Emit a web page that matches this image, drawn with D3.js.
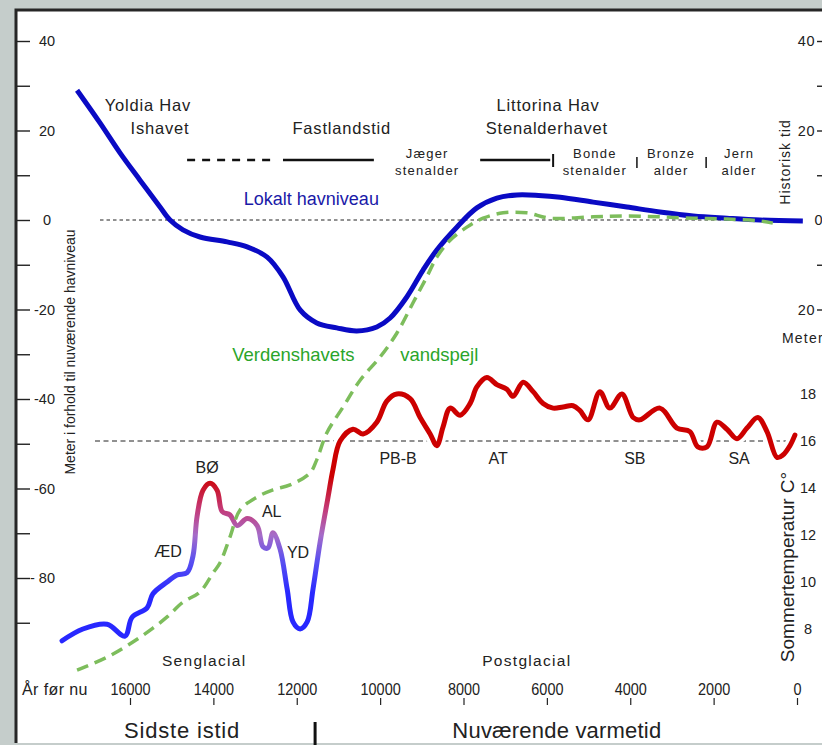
<!DOCTYPE html>
<html lang="da">
<head>
<meta charset="UTF-8">
<title>Havniveau og sommertemperatur</title>
<style>
  body { margin: 0; background: #c5cdcb; }
  svg { display: block; font-family: "Liberation Sans", Arial, sans-serif; }
  .axis path.domain { display: none; }
  .axis line { stroke: #222; stroke-width: 1.4px; }
  .axis text { fill: #222; }
</style>
</head>
<body>
<svg id="chart" width="822" height="745"></svg>
<script src="https://cdn.jsdelivr.net/npm/d3@7/dist/d3.min.js"></script>
<script>
// --- data (years before present) ---
const localYears = [17270, 16720, 16240, 15760, 15280, 15040, 14730, 14320, 13670, 13190, 12710, 12330, 11920, 11520, 11040, 10560, 10080, 9760, 9360, 8970, 8640, 8160, 7680, 7200, 6720, 6200, 5680, 4890, 4080, 3290, 2490, 1680, 890, -140];
const localLevel = [29.0, 21.7, 15.0, 8.9, 2.9, 0, -2.2, -3.8, -4.9, -6.0, -8.3, -12.7, -20.1, -23.0, -24.1, -24.8, -23.9, -21.9, -17.2, -11.2, -6.7, -1.6, 2.7, 4.9, 5.6, 5.5, 5.1, 4.0, 2.9, 1.8, 0.9, 0.4, 0, -0.2];

const worldYears = [17270, 16550, 15930, 15450, 15110, 14730, 14320, 14010, 13840, 13600, 13360, 12950, 12570, 12160, 11680, 11520, 11280, 10890, 10480, 10000, 9600, 9210, 8880, 8640, 8320, 7920, 7530, 7050, 6480, 5930, 4890, 4080, 3290, 2490, 1680, 890, 580];
const worldLevel = [-100.6, -97.7, -94.3, -91.2, -88.7, -85.4, -83.1, -78.9, -76.6, -70.8, -64.8, -61.9, -60.3, -59.2, -56.5, -53.6, -47.6, -41.8, -35.8, -30.6, -25.3, -18.5, -12.7, -8.3, -4.5, -1.6, 0.4, 1.6, 1.6, 0.4, 0.7, 0.9, 0.7, 0.4, 0.2, -0.2, -0.7];

const tempYears = [17630, 17130, 16550, 16120, 15950, 15590, 15450, 15110, 14870, 14630, 14490, 14390, 14250, 14080, 13910, 13790, 13600, 13430, 13190, 12950, 12810, 12690, 12570, 12400, 12230, 12090, 11920, 11750, 11610, 11440, 11250, 11130, 10960, 10650, 10410, 10080, 9840, 9600, 9280, 9040, 8800, 8640, 8490, 8320, 8080, 7840, 7680, 7440, 7200, 6960, 6810, 6570, 6330, 6090, 5850, 5610, 5370, 5210, 5010, 4730, 4490, 4200, 3930, 3770, 3290, 2880, 2570, 2380, 2160, 1920, 1680, 1440, 1200, 940, 720, 480, 340, 170, 50];
const tempValues = [7.5, 8.0, 8.2, 7.7, 8.5, 8.9, 9.5, 10.0, 10.3, 10.4, 11.1, 12.8, 13.9, 14.2, 13.9, 13.0, 12.85, 12.4, 12.7, 12.4, 11.5, 11.45, 12.1, 11.4, 9.7, 8.3, 8.0, 8.3, 9.7, 11.7, 13.6, 14.8, 16.0, 16.5, 16.3, 16.8, 17.7, 18.0, 17.8, 17.0, 16.3, 15.8, 16.6, 17.4, 17.1, 17.6, 18.3, 18.7, 18.4, 18.2, 17.9, 18.5, 18.1, 17.6, 17.4, 17.45, 17.5, 17.3, 16.9, 18.1, 17.4, 18.0, 17.0, 16.9, 17.4, 16.55, 16.4, 15.75, 15.75, 16.8, 16.5, 16.1, 16.55, 17.0, 16.4, 15.3, 15.4, 15.8, 16.25];

// --- axis ticks and labels ---
const yearTicks = [16000, 14000, 12000, 10000, 8000, 6000, 4000, 2000, 0];
const leftTicks = [40, 30, 20, 10, 0, -10, -20, -30, -40, -50, -60, -70, -80, -90];
const leftLabels = {40: "40", 20: "20", 0: "0", "-20": "-20", "-40": "-40", "-60": "-60", "-80": "- 80"};
const rightTicks = [40, 30, 20, 10, 0, -10, -20];
const tempTicks = [18, 16, 14, 12, 10, 8];

// --- annotations (year / value) ---
const topTitles = [
  {text: "Yoldia Hav", year: 15570, m: 24.3},
  {text: "Ishavet", year: 15280, m: 19.2},
  {text: "Fastlandstid", year: 10920, m: 19.2},
  {text: "Littorina Hav", year: 5970, m: 24.3},
  {text: "Stenalderhavet", year: 6000, m: 19.2}
];
const cultureLabels = [
  {l1: "Jæger", l2: "stenalder", year: 8870},
  {l1: "Bonde", l2: "stenalder", year: 4850},
  {l1: "Bronze", l2: "alder", year: 3020},
  {l1: "Jern", l2: "alder", year: 1390}
];
const cultureBars = [
  {from: 14630, to: 12590, dashed: true},
  {from: 12330, to: 10150, dashed: false},
  {from: 7600, to: 5920, dashed: false}
];
const cultureSeparators = [5850, 3840, 2180];
const climateLabels = [
  {text: "BØ", year: 14150, t: 14.64},
  {text: "ÆD", year: 15090, t: 11.06},
  {text: "AL", year: 12600, t: 12.77},
  {text: "YD", year: 11970, t: 11.02},
  {text: "PB-B", year: 9570, t: 15.02},
  {text: "AT", year: 7170, t: 15.02},
  {text: "SB", year: 3890, t: 15.02},
  {text: "SA", year: 1390, t: 15.02}
];

const svg = d3.select("#chart");
const W = 822, H = 745;

// scales
const x = d3.scaleLinear().domain([16000, 0]).range([130, 797]);
const y = d3.scaleLinear().domain([40, -80]).range([41, 578]);
const yT = d3.scaleLinear().domain([18, 8]).range([394, 629]);

// frame: gray surround, white panel, dark top/left edge
svg.append("rect").attr("width", W).attr("height", H).attr("fill", "#c5cdcb");
svg.append("rect").attr("x", 16).attr("y", 10).attr("width", W - 16).attr("height", 733).attr("fill", "#fff");
svg.append("path").attr("d", `M16,743V10H${W}`).attr("fill", "none")
  .attr("stroke", "#262626").attr("stroke-width", 3);

// gradient for temperature curve
const grad = svg.append("defs").append("linearGradient")
  .attr("id", "tempGrad").attr("gradientUnits", "userSpaceOnUse")
  .attr("x1", 0).attr("x2", 0).attr("y1", yT(14.5)).attr("y2", yT(9.5));
[[0, "#cc0000"], [0.28, "#c43a78"], [0.5, "#a66cc8"], [0.72, "#5a50f0"], [1, "#2828ff"]]
  .forEach(([o, c]) => grad.append("stop").attr("offset", o).attr("stop-color", c));

// reference lines
svg.append("line").attr("x1", 100).attr("x2", 800).attr("y1", y(0)).attr("y2", y(0))
  .attr("stroke", "#222").attr("stroke-width", 1).attr("stroke-dasharray", "3.5,3");
svg.append("line").attr("x1", 95).attr("x2", 790).attr("y1", yT(16)).attr("y2", yT(16))
  .attr("stroke", "#222").attr("stroke-width", 1).attr("stroke-dasharray", "5,3.5");

// left axis
const leftAxis = d3.axisRight(y).tickValues(leftTicks).tickSize(13).tickPadding(0)
  .tickFormat(d => leftLabels[d] || "");
const gl = svg.append("g").attr("class", "axis").attr("transform", "translate(17,0)").call(leftAxis);
gl.selectAll("text").style("font-size", "14.5px")
  .attr("x", d => d < 0 ? 38 : 30)
  .attr("text-anchor", d => d < 0 ? "end" : "middle");

// right meter axis
const rightAxis = d3.axisLeft(y).tickValues(rightTicks).tickSize(5).tickPadding(2)
  .tickFormat(d => d % 20 === 0 ? Math.abs(d) : "");
const gr = svg.append("g").attr("class", "axis").attr("transform", `translate(${W},0)`).call(rightAxis);
gr.selectAll("text").style("font-size", "14.5px").style("letter-spacing", "0.5px");
gr.selectAll(".tick").filter(d => d === 0).select("line").remove();
gr.selectAll(".tick").filter(d => d === 0).select("text").attr("x", 1);

// temperature axis
const tAxis = d3.axisRight(yT).tickValues(tempTicks).tickSize(0).tickPadding(0);
const gt = svg.append("g").attr("class", "axis").attr("transform", "translate(808,0)").call(tAxis);
gt.selectAll("text").style("font-size", "14.5px").attr("text-anchor", "middle");

// x axis
const xAxis = d3.axisTop(x).tickValues(yearTicks).tickSize(7).tickPadding(3).tickFormat(d3.format("d"));
const gx = svg.append("g").attr("class", "axis").attr("transform", "translate(0,705)").call(xAxis);
gx.selectAll("text").style("font-size", "17px").attr("transform", "scale(0.85,1)");
gx.selectAll("line").style("stroke-width", "1.2px");

const txt = (s, px, py, size, opts = {}) => svg.append("text")
  .attr("x", px).attr("y", py).text(s)
  .attr("text-anchor", opts.anchor || "middle")
  .attr("fill", opts.fill || "#222")
  .style("font-size", size + "px")
  .style("letter-spacing", (opts.ls || 0) + "px");

txt("År før nu", 22, 695, 16, {anchor: "start", ls: 0.4});

// curves
const lineLocal = d3.line().x((d, i) => x(localYears[i])).y(d => y(d)).curve(d3.curveCatmullRom.alpha(0.5));
const lineWorld = d3.line().x((d, i) => x(worldYears[i])).y(d => y(d)).curve(d3.curveCatmullRom.alpha(0.5));
const lineTemp = d3.line().x((d, i) => x(tempYears[i])).y(d => yT(d)).curve(d3.curveCatmullRom.alpha(0.5));

svg.append("path").attr("d", lineTemp(tempValues)).attr("fill", "none")
  .attr("stroke", "#fff").attr("stroke-width", 12).attr("stroke-linejoin", "round");
svg.append("path").attr("d", lineTemp(tempValues)).attr("fill", "none")
  .attr("stroke", "url(#tempGrad)").attr("stroke-width", 5)
  .attr("stroke-linejoin", "round").attr("stroke-linecap", "round");

svg.append("path").attr("d", lineLocal(localLevel)).attr("fill", "none")
  .attr("stroke", "#0a0ac4").attr("stroke-width", 5)
  .attr("stroke-linejoin", "round").attr("stroke-linecap", "butt");

svg.append("path").attr("d", lineWorld(worldLevel)).attr("fill", "none")
  .attr("stroke", "#7dbd5c").attr("stroke-width", 3.5)
  .attr("stroke-dasharray", "12,7");

// period bars and culture labels
cultureBars.forEach(b => {
  svg.append("line").attr("x1", x(b.from)).attr("x2", x(b.to)).attr("y1", 160).attr("y2", 160)
    .attr("stroke", "#111").attr("stroke-width", 2.5)
    .attr("stroke-dasharray", b.dashed ? "8,7" : null);
});
cultureSeparators.forEach((s, i) => {
  svg.append("line").attr("x1", x(s)).attr("x2", x(s))
    .attr("y1", i === 0 ? 154 : 157).attr("y2", i === 0 ? 167 : 168)
    .attr("stroke", "#111").attr("stroke-width", i === 0 ? 2 : 1.5);
});
cultureLabels.forEach(c => {
  txt(c.l1, x(c.year), 158, 13, {ls: 1.2});
  txt(c.l2, x(c.year), 175, 13, {ls: 1.2});
});

topTitles.forEach(t => txt(t.text, x(t.year), y(t.m), 16.5, {ls: 0.8}));

txt("Lokalt havniveau", x(13270), y(3.35), 18, {anchor: "start", fill: "#1a1aa8"});
txt("Verdenshavets", x(13550), y(-31.5), 18.5, {anchor: "start", fill: "#2aa52a"});
txt("vandspejl", x(9520), y(-31.5), 18.5, {anchor: "start", fill: "#2aa52a"});

climateLabels.forEach(c => txt(c.text, x(c.year), yT(c.t), 16));

txt("Senglacial", x(14220), 666, 15.5, {ls: 1.3});
txt("Postglacial", x(6480), 666, 15.5, {ls: 1.3});
txt("Sidste istid", x(14750), 738, 22, {ls: 0.8});
txt("Nuværende varmetid", x(5760), 738, 22, {ls: 0.2});
svg.append("line").attr("x1", x(11560)).attr("x2", x(11560)).attr("y1", 722).attr("y2", 745)
  .attr("stroke", "#111").attr("stroke-width", 3);

// rotated titles
svg.append("text").attr("transform", "translate(75,352) rotate(-90)")
  .attr("text-anchor", "middle").attr("fill", "#222")
  .attr("textLength", 245).attr("lengthAdjust", "spacingAndGlyphs")
  .style("font-size", "14.5px").text("Meter i forhold til nuværende havniveau");
svg.append("text").attr("transform", "translate(790,162) rotate(-90)")
  .attr("text-anchor", "middle").attr("fill", "#222")
  .style("font-size", "14px").style("letter-spacing", "1px").text("Historisk tid");
svg.append("text").attr("transform", "translate(794,567) rotate(-90)")
  .attr("text-anchor", "middle").attr("fill", "#222")
  .style("font-size", "19px").text("Sommertemperatur C°");
txt("Meter", 782, 343, 14, {anchor: "start", ls: 1.2});
</script>
</body>
</html>
